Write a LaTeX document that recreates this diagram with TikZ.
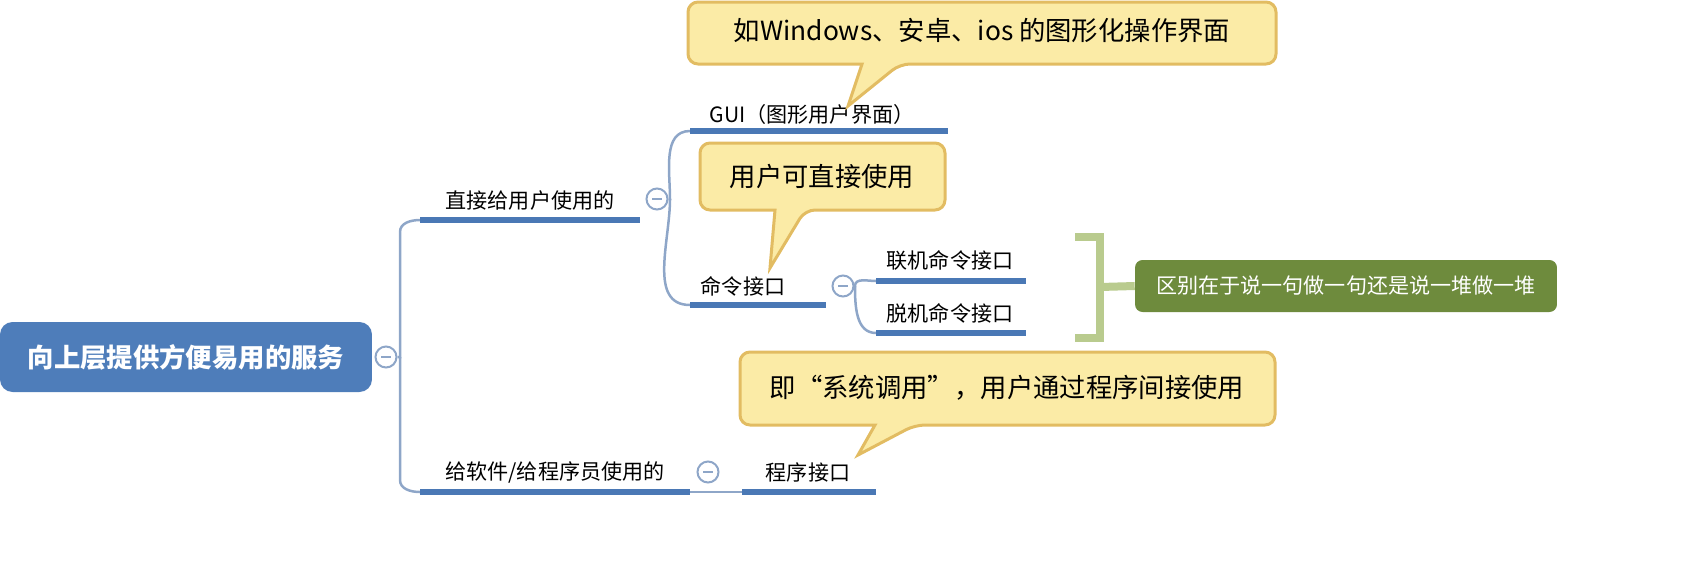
\documentclass[tikz,border=0pt]{standalone}
\usepackage{fontspec}
\setmainfont{Noto Sans CJK SC}
\usetikzlibrary{positioning}
\definecolor{rootblue}{HTML}{4E7DBA}
\definecolor{lineblue}{HTML}{4A78B5}
\definecolor{linkgray}{HTML}{8EA6C8}
\definecolor{notefill}{HTML}{FBEBA6}
\definecolor{notedraw}{HTML}{E2BC62}
\definecolor{sumgreen}{HTML}{6E8B3D}
\definecolor{bracegreen}{HTML}{B9CB8E}
\tikzset{
    topic/.style={font=\fontsize{12}{14}\selectfont, inner sep=0pt},
    uline/.style={draw=lineblue, line width=1.3mm},
    link/.style={draw=linkgray, line width=0.5mm},
    fold/.style={circle, draw=linkgray, line width=0.4mm, minimum size=4.2mm, inner sep=0pt,
        path picture={\draw[linkgray, line width=0.4mm] ([xshift=-1mm]path picture bounding box.center) -- ([xshift=1mm]path picture bounding box.center);}},
    note/.style={fill=notefill, draw=notedraw, line width=0.6mm, rounded corners=2mm},
    notetext/.style={font=\fontsize{15}{18}\selectfont, inner sep=0pt}
}
\newcommand{\callout}[8]{
    \draw[note] (#1,#2) -- (#3,#2) -- (#3,#4) -- (#6,#4) [sharp corners] -- (#7,#8) -- (#5,#4) [rounded corners=2mm] -- (#1,#4) -- cycle;
}
\begin{document}
\begin{tikzpicture}[x=0.02cm, y=-0.02cm]
    \useasboundingbox (0,0) rectangle (1698,586);

    % Root
    \node[fill=rootblue, rounded corners=2.5mm, minimum width=7.44cm, minimum height=1.4cm,
          text=white, font=\fontsize{15}{18}\selectfont\bfseries] (root) at (186,357) {向上层提供方便易用的服务};
    \node[fold] (f0) at (386,357) {};

    % First level
    \node[topic] (direct) at (530,200) {直接给用户使用的};
    \coordinate (direct-a) at (420,220); \coordinate (direct-b) at (640,220);
    \node[fold] (f1) at (657,199) {};
    \node[topic] (soft) at (555,472) {给软件/给程序员使用的};
    \coordinate (soft-a) at (420,492); \coordinate (soft-b) at (690,492);
    \node[fold] (f2) at (708,472) {};

    \draw[link] (f0.east) -- (400,357) -- (400,232) to[out=90,in=180] (direct-a);
    \draw[link] (400,357) -- (400,480) to[out=-90,in=180] (soft-a);
    \draw[uline] (direct-a) -- (direct-b);
    \draw[uline] (soft-a) -- (soft-b);

    % Second level
    \node[topic] (gui) at (812,114) {GUI（图形用户界面）};
    \coordinate (gui-a) at (690,131); \coordinate (gui-b) at (948,131);
    \node[topic] (cmd) at (743,286) {命令接口};
    \coordinate (cmd-a) at (690,305); \coordinate (cmd-b) at (826,305);
    \node[fold] (f3) at (843,286) {};
    \node[topic] (prog) at (808,472) {程序接口};
    \coordinate (prog-a) at (742,492); \coordinate (prog-b) at (876,492);

    \draw[link] (f1.east) -- (670,199) to[out=90,in=180] (gui-a);
    \draw[link] (670,199) to[out=-90,in=180] (cmd-a);
    \draw[link] (soft-b) -- (prog-a);
    \draw[uline] (gui-a) -- (gui-b);
    \draw[uline] (cmd-a) -- (cmd-b);
    \draw[uline] (prog-a) -- (prog-b);

    % Third level
    \node[topic] (online) at (950,260) {联机命令接口};
    \coordinate (online-a) at (876,281); \coordinate (online-b) at (1026,281);
    \node[topic] (offline) at (950,313) {脱机命令接口};
    \coordinate (offline-a) at (876,333); \coordinate (offline-b) at (1026,333);
    \draw[link] (f3.east) -- (855,286) to[out=90,in=180] (online-a);
    \draw[link] (855,286) to[out=-90,in=180] (offline-a);
    \draw[uline] (online-a) -- (online-b);
    \draw[uline] (offline-a) -- (offline-b);

    % Summary brace
    \draw[bracegreen, line width=1.6mm] (1075,237) -- (1100,237) -- (1100,338) -- (1075,338);
    \node[fill=sumgreen, rounded corners=1.5mm, minimum width=8.44cm, minimum height=1.04cm,
          text=white, font=\fontsize{12}{14}\selectfont] (sum) at (1346,286) {区别在于说一句做一句还是说一堆做一堆};
    \draw[bracegreen, line width=1.6mm] (1100,287) -- (sum.west);

    % Callouts
    \callout{688}{2}{1276}{64}{862}{900}{848}{106}
    \node[notetext] (note1) at (982,31) {如Windows、安卓、ios 的图形化操作界面};
    \callout{700}{143}{945}{210}{775}{805}{770}{268}
    \node[notetext] (note2) at (822,176) {用户可直接使用};
    \callout{740}{352}{1275}{425}{875}{915}{858}{455}
    \node[notetext] (note3) at (1007,388) {即“系统调用”，用户通过程序间接使用};
\end{tikzpicture}
\end{document}
